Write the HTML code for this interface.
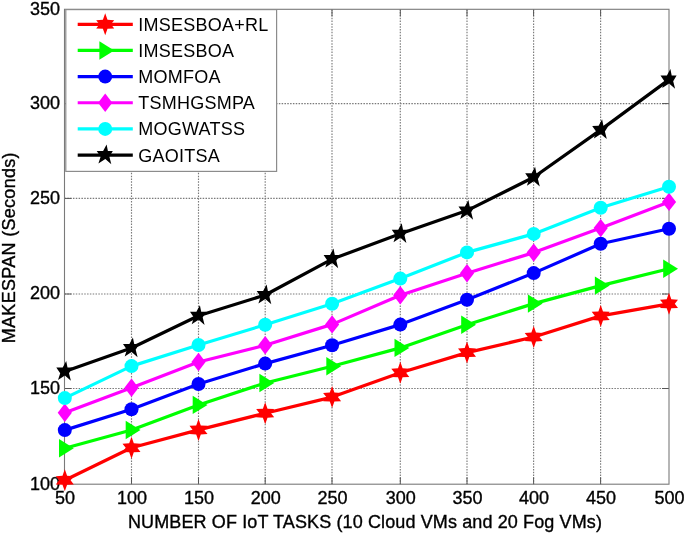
<!DOCTYPE html>
<html><head><meta charset="utf-8"><style>
html,body{margin:0;padding:0;background:#fff;}
body{width:685px;height:533px;overflow:hidden;}
svg{display:block;will-change:transform;}
text{font-family:"Liberation Sans",sans-serif;font-size:18px;fill:#000;stroke:#000;stroke-width:0.35px;}
.lg{stroke:none;letter-spacing:0.25px;}
</style></head><body>
<svg width="685" height="533" viewBox="0 0 685 533">
<rect x="0" y="0" width="685" height="533" fill="#fff"/>

<g stroke="#7a7a7a" stroke-width="1.15" stroke-dasharray="1.5,1.32"><line x1="131.50" y1="9.3" x2="131.50" y2="484.2"/><line x1="198.50" y1="9.3" x2="198.50" y2="484.2"/><line x1="265.20" y1="9.3" x2="265.20" y2="484.2"/><line x1="332.00" y1="9.3" x2="332.00" y2="484.2"/><line x1="400.30" y1="9.3" x2="400.30" y2="484.2"/><line x1="467.00" y1="9.3" x2="467.00" y2="484.2"/><line x1="533.60" y1="9.3" x2="533.60" y2="484.2"/><line x1="600.60" y1="9.3" x2="600.60" y2="484.2"/><line x1="64.5" y1="388.50" x2="669.0" y2="388.50"/><line x1="64.5" y1="294.00" x2="669.0" y2="294.00"/><line x1="64.5" y1="198.40" x2="669.0" y2="198.40"/><line x1="64.5" y1="103.60" x2="669.0" y2="103.60"/></g>
<g stroke="#555" stroke-width="1"><line x1="131.50" y1="484.2" x2="131.50" y2="477.2"/><line x1="131.50" y1="9.3" x2="131.50" y2="16.3"/><line x1="198.50" y1="484.2" x2="198.50" y2="477.2"/><line x1="198.50" y1="9.3" x2="198.50" y2="16.3"/><line x1="265.20" y1="484.2" x2="265.20" y2="477.2"/><line x1="265.20" y1="9.3" x2="265.20" y2="16.3"/><line x1="332.00" y1="484.2" x2="332.00" y2="477.2"/><line x1="332.00" y1="9.3" x2="332.00" y2="16.3"/><line x1="400.30" y1="484.2" x2="400.30" y2="477.2"/><line x1="400.30" y1="9.3" x2="400.30" y2="16.3"/><line x1="467.00" y1="484.2" x2="467.00" y2="477.2"/><line x1="467.00" y1="9.3" x2="467.00" y2="16.3"/><line x1="533.60" y1="484.2" x2="533.60" y2="477.2"/><line x1="533.60" y1="9.3" x2="533.60" y2="16.3"/><line x1="600.60" y1="484.2" x2="600.60" y2="477.2"/><line x1="600.60" y1="9.3" x2="600.60" y2="16.3"/><line x1="64.5" y1="388.50" x2="71.5" y2="388.50"/><line x1="669.0" y1="388.50" x2="662.0" y2="388.50"/><line x1="64.5" y1="294.00" x2="71.5" y2="294.00"/><line x1="669.0" y1="294.00" x2="662.0" y2="294.00"/><line x1="64.5" y1="198.40" x2="71.5" y2="198.40"/><line x1="669.0" y1="198.40" x2="662.0" y2="198.40"/><line x1="64.5" y1="103.60" x2="71.5" y2="103.60"/><line x1="669.0" y1="103.60" x2="662.0" y2="103.60"/></g>
<rect x="64.5" y="9.3" width="604.5" height="474.9" fill="none" stroke="#7a7a7a" stroke-width="1.1"/>
<text x="65.00" y="504.1" text-anchor="middle">50</text>
<text x="132.00" y="504.1" text-anchor="middle">100</text>
<text x="199.00" y="504.1" text-anchor="middle">150</text>
<text x="265.70" y="504.1" text-anchor="middle">200</text>
<text x="332.50" y="504.1" text-anchor="middle">250</text>
<text x="400.80" y="504.1" text-anchor="middle">300</text>
<text x="467.50" y="504.1" text-anchor="middle">350</text>
<text x="534.10" y="504.1" text-anchor="middle">400</text>
<text x="601.10" y="504.1" text-anchor="middle">450</text>
<text x="669.50" y="504.1" text-anchor="middle">500</text>
<text x="60" y="489.50" text-anchor="end">100</text>
<text x="60" y="393.80" text-anchor="end">150</text>
<text x="60" y="299.30" text-anchor="end">200</text>
<text x="60" y="203.70" text-anchor="end">250</text>
<text x="60" y="108.90" text-anchor="end">300</text>
<text x="60" y="14.60" text-anchor="end">350</text>
<polyline points="64.80,480.30 131.50,447.80 198.50,429.90 265.20,413.20 332.10,397.10 400.30,372.80 467.00,352.60 533.70,337.00 600.70,315.90 669.00,303.80" fill="none" stroke="#ff0000" stroke-width="3.2" stroke-linejoin="round"/>
<polygon points="64.80,469.30 67.10,475.80 73.80,476.20 70.60,480.30 73.80,484.40 67.10,484.80 64.80,491.30 62.50,484.80 55.80,484.40 59.00,480.30 55.80,476.20 62.50,475.80" fill="#ff0000"/><polygon points="131.50,436.80 133.80,443.30 140.50,443.70 137.30,447.80 140.50,451.90 133.80,452.30 131.50,458.80 129.20,452.30 122.50,451.90 125.70,447.80 122.50,443.70 129.20,443.30" fill="#ff0000"/><polygon points="198.50,418.90 200.80,425.40 207.50,425.80 204.30,429.90 207.50,434.00 200.80,434.40 198.50,440.90 196.20,434.40 189.50,434.00 192.70,429.90 189.50,425.80 196.20,425.40" fill="#ff0000"/><polygon points="265.20,402.20 267.50,408.70 274.20,409.10 271.00,413.20 274.20,417.30 267.50,417.70 265.20,424.20 262.90,417.70 256.20,417.30 259.40,413.20 256.20,409.10 262.90,408.70" fill="#ff0000"/><polygon points="332.10,386.10 334.40,392.60 341.10,393.00 337.90,397.10 341.10,401.20 334.40,401.60 332.10,408.10 329.80,401.60 323.10,401.20 326.30,397.10 323.10,393.00 329.80,392.60" fill="#ff0000"/><polygon points="400.30,361.80 402.60,368.30 409.30,368.70 406.10,372.80 409.30,376.90 402.60,377.30 400.30,383.80 398.00,377.30 391.30,376.90 394.50,372.80 391.30,368.70 398.00,368.30" fill="#ff0000"/><polygon points="467.00,341.60 469.30,348.10 476.00,348.50 472.80,352.60 476.00,356.70 469.30,357.10 467.00,363.60 464.70,357.10 458.00,356.70 461.20,352.60 458.00,348.50 464.70,348.10" fill="#ff0000"/><polygon points="533.70,326.00 536.00,332.50 542.70,332.90 539.50,337.00 542.70,341.10 536.00,341.50 533.70,348.00 531.40,341.50 524.70,341.10 527.90,337.00 524.70,332.90 531.40,332.50" fill="#ff0000"/><polygon points="600.70,304.90 603.00,311.40 609.70,311.80 606.50,315.90 609.70,320.00 603.00,320.40 600.70,326.90 598.40,320.40 591.70,320.00 594.90,315.90 591.70,311.80 598.40,311.40" fill="#ff0000"/><polygon points="669.00,292.80 671.30,299.30 678.00,299.70 674.80,303.80 678.00,307.90 671.30,308.30 669.00,314.80 666.70,308.30 660.00,307.90 663.20,303.80 660.00,299.70 666.70,299.30" fill="#ff0000"/>
<polyline points="64.80,448.20 131.50,430.00 198.50,404.90 265.20,383.00 332.10,366.30 400.30,347.90 467.00,324.70 533.70,303.60 600.70,285.60 669.00,268.70" fill="none" stroke="#00ff00" stroke-width="3.2" stroke-linejoin="round"/>
<polygon points="59.00,439.00 73.80,448.20 59.00,457.40" fill="#00ff00"/><polygon points="125.70,420.80 140.50,430.00 125.70,439.20" fill="#00ff00"/><polygon points="192.70,395.70 207.50,404.90 192.70,414.10" fill="#00ff00"/><polygon points="259.40,373.80 274.20,383.00 259.40,392.20" fill="#00ff00"/><polygon points="326.30,357.10 341.10,366.30 326.30,375.50" fill="#00ff00"/><polygon points="394.50,338.70 409.30,347.90 394.50,357.10" fill="#00ff00"/><polygon points="461.20,315.50 476.00,324.70 461.20,333.90" fill="#00ff00"/><polygon points="527.90,294.40 542.70,303.60 527.90,312.80" fill="#00ff00"/><polygon points="594.90,276.40 609.70,285.60 594.90,294.80" fill="#00ff00"/><polygon points="663.20,259.50 678.00,268.70 663.20,277.90" fill="#00ff00"/>
<polyline points="64.80,430.10 131.50,409.30 198.50,384.00 265.20,363.60 332.10,345.20 400.30,324.60 467.00,299.70 533.70,273.10 600.70,243.80 669.00,228.80" fill="none" stroke="#0000ff" stroke-width="3.2" stroke-linejoin="round"/>
<circle cx="64.80" cy="430.10" r="7.0" fill="#0000ff"/><circle cx="131.50" cy="409.30" r="7.0" fill="#0000ff"/><circle cx="198.50" cy="384.00" r="7.0" fill="#0000ff"/><circle cx="265.20" cy="363.60" r="7.0" fill="#0000ff"/><circle cx="332.10" cy="345.20" r="7.0" fill="#0000ff"/><circle cx="400.30" cy="324.60" r="7.0" fill="#0000ff"/><circle cx="467.00" cy="299.70" r="7.0" fill="#0000ff"/><circle cx="533.70" cy="273.10" r="7.0" fill="#0000ff"/><circle cx="600.70" cy="243.80" r="7.0" fill="#0000ff"/><circle cx="669.00" cy="228.80" r="7.0" fill="#0000ff"/>
<polyline points="64.80,412.80 131.50,387.80 198.50,362.00 265.20,345.30 332.10,324.40 400.30,295.20 467.00,273.20 533.70,252.60 600.70,228.10 669.00,201.90" fill="none" stroke="#ff00ff" stroke-width="3.2" stroke-linejoin="round"/>
<polygon points="64.80,403.60 71.90,412.80 64.80,422.00 57.70,412.80" fill="#ff00ff"/><polygon points="131.50,378.60 138.60,387.80 131.50,397.00 124.40,387.80" fill="#ff00ff"/><polygon points="198.50,352.80 205.60,362.00 198.50,371.20 191.40,362.00" fill="#ff00ff"/><polygon points="265.20,336.10 272.30,345.30 265.20,354.50 258.10,345.30" fill="#ff00ff"/><polygon points="332.10,315.20 339.20,324.40 332.10,333.60 325.00,324.40" fill="#ff00ff"/><polygon points="400.30,286.00 407.40,295.20 400.30,304.40 393.20,295.20" fill="#ff00ff"/><polygon points="467.00,264.00 474.10,273.20 467.00,282.40 459.90,273.20" fill="#ff00ff"/><polygon points="533.70,243.40 540.80,252.60 533.70,261.80 526.60,252.60" fill="#ff00ff"/><polygon points="600.70,218.90 607.80,228.10 600.70,237.30 593.60,228.10" fill="#ff00ff"/><polygon points="669.00,192.70 676.10,201.90 669.00,211.10 661.90,201.90" fill="#ff00ff"/>
<polyline points="64.80,398.10 131.50,366.10 198.50,345.00 265.20,324.80 332.10,303.80 400.30,278.60 467.00,252.40 533.70,233.90 600.70,207.80 669.00,186.80" fill="none" stroke="#00ffff" stroke-width="3.2" stroke-linejoin="round"/>
<circle cx="64.80" cy="398.10" r="7.0" fill="#00ffff"/><circle cx="131.50" cy="366.10" r="7.0" fill="#00ffff"/><circle cx="198.50" cy="345.00" r="7.0" fill="#00ffff"/><circle cx="265.20" cy="324.80" r="7.0" fill="#00ffff"/><circle cx="332.10" cy="303.80" r="7.0" fill="#00ffff"/><circle cx="400.30" cy="278.60" r="7.0" fill="#00ffff"/><circle cx="467.00" cy="252.40" r="7.0" fill="#00ffff"/><circle cx="533.70" cy="233.90" r="7.0" fill="#00ffff"/><circle cx="600.70" cy="207.80" r="7.0" fill="#00ffff"/><circle cx="669.00" cy="186.80" r="7.0" fill="#00ffff"/>
<polyline points="64.80,371.50 131.50,348.00 198.50,315.80 265.20,295.00 332.10,259.10 400.30,233.80 467.00,210.60 533.70,177.30 600.70,129.90 669.00,79.60" fill="none" stroke="#000000" stroke-width="3.2" stroke-linejoin="round"/>
<polygon points="66.20,360.90 67.50,367.40 72.40,367.50 69.00,373.20 70.90,380.70 64.90,375.50 58.00,380.00 60.20,373.20 56.30,367.50 62.70,367.40" fill="#000000"/><polygon points="132.90,337.40 134.20,343.90 139.10,344.00 135.70,349.70 137.60,357.20 131.60,352.00 124.70,356.50 126.90,349.70 123.00,344.00 129.40,343.90" fill="#000000"/><polygon points="199.90,305.20 201.20,311.70 206.10,311.80 202.70,317.50 204.60,325.00 198.60,319.80 191.70,324.30 193.90,317.50 190.00,311.80 196.40,311.70" fill="#000000"/><polygon points="266.60,284.40 267.90,290.90 272.80,291.00 269.40,296.70 271.30,304.20 265.30,299.00 258.40,303.50 260.60,296.70 256.70,291.00 263.10,290.90" fill="#000000"/><polygon points="333.50,248.50 334.80,255.00 339.70,255.10 336.30,260.80 338.20,268.30 332.20,263.10 325.30,267.60 327.50,260.80 323.60,255.10 330.00,255.00" fill="#000000"/><polygon points="401.70,223.20 403.00,229.70 407.90,229.80 404.50,235.50 406.40,243.00 400.40,237.80 393.50,242.30 395.70,235.50 391.80,229.80 398.20,229.70" fill="#000000"/><polygon points="468.40,200.00 469.70,206.50 474.60,206.60 471.20,212.30 473.10,219.80 467.10,214.60 460.20,219.10 462.40,212.30 458.50,206.60 464.90,206.50" fill="#000000"/><polygon points="535.10,166.70 536.40,173.20 541.30,173.30 537.90,179.00 539.80,186.50 533.80,181.30 526.90,185.80 529.10,179.00 525.20,173.30 531.60,173.20" fill="#000000"/><polygon points="602.10,119.30 603.40,125.80 608.30,125.90 604.90,131.60 606.80,139.10 600.80,133.90 593.90,138.40 596.10,131.60 592.20,125.90 598.60,125.80" fill="#000000"/><polygon points="670.40,69.00 671.70,75.50 676.60,75.60 673.20,81.30 675.10,88.80 669.10,83.60 662.20,88.10 664.40,81.30 660.50,75.60 666.90,75.50" fill="#000000"/>
<text x="365" y="528" text-anchor="middle" style="letter-spacing:0.12px">NUMBER OF IoT TASKS (10 Cloud VMs and 20 Fog VMs)</text>
<text transform="translate(14.5,247.7) rotate(-90)" text-anchor="middle" style="letter-spacing:0.3px">MAKESPAN (Seconds)</text>
<rect x="65.8" y="9.6" width="210.8" height="161.8" fill="#fff" stroke="#8c8c8c" stroke-width="1.2"/>
<line x1="77.7" y1="24.30" x2="132.8" y2="24.30" stroke="#ff0000" stroke-width="3.2"/>
<polygon points="105.20,13.30 107.50,19.80 114.20,20.20 111.00,24.30 114.20,28.40 107.50,28.80 105.20,35.30 102.90,28.80 96.20,28.40 99.40,24.30 96.20,20.20 102.90,19.80" fill="#ff0000"/>
<text class="lg" x="138.2" y="30.80">IMSESBOA+RL</text>
<line x1="77.7" y1="50.45" x2="132.8" y2="50.45" stroke="#00ff00" stroke-width="3.2"/>
<polygon points="99.40,41.25 114.20,50.45 99.40,59.65" fill="#00ff00"/>
<text class="lg" x="138.2" y="56.95">IMSESBOA</text>
<line x1="77.7" y1="76.60" x2="132.8" y2="76.60" stroke="#0000ff" stroke-width="3.2"/>
<circle cx="105.20" cy="76.60" r="7.0" fill="#0000ff"/>
<text class="lg" x="138.2" y="83.10">MOMFOA</text>
<line x1="77.7" y1="102.75" x2="132.8" y2="102.75" stroke="#ff00ff" stroke-width="3.2"/>
<polygon points="105.20,93.55 112.30,102.75 105.20,111.95 98.10,102.75" fill="#ff00ff"/>
<text class="lg" x="138.2" y="109.25">TSMHGSMPA</text>
<line x1="77.7" y1="128.90" x2="132.8" y2="128.90" stroke="#00ffff" stroke-width="3.2"/>
<circle cx="105.20" cy="128.90" r="7.0" fill="#00ffff"/>
<text class="lg" x="138.2" y="135.40">MOGWATSS</text>
<line x1="77.7" y1="155.05" x2="132.8" y2="155.05" stroke="#000000" stroke-width="3.2"/>
<polygon points="106.60,144.45 107.90,150.95 112.80,151.05 109.40,156.75 111.30,164.25 105.30,159.05 98.40,163.55 100.60,156.75 96.70,151.05 103.10,150.95" fill="#000000"/>
<text class="lg" x="138.2" y="161.55">GAOITSA</text>
</svg></body></html>
